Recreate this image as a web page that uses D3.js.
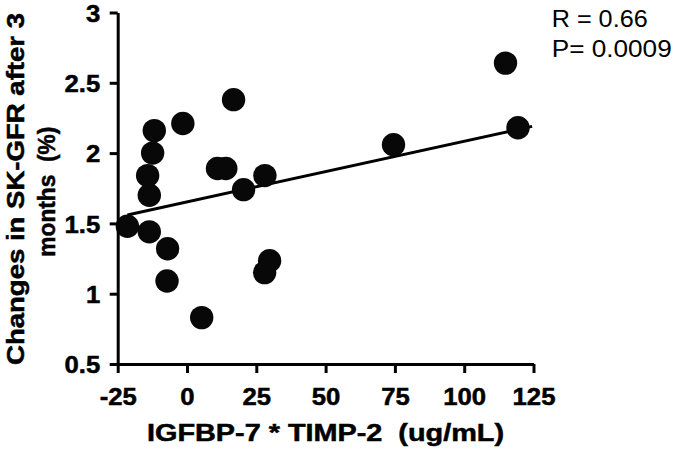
<!DOCTYPE html>
<html>
<head>
<meta charset="utf-8">
<script src="https://cdn.jsdelivr.net/npm/d3@7/dist/d3.min.js"></script>
<style>
  html, body { margin: 0; padding: 0; background: #fff; }
  svg { display: block; }
  text { font-family: "Liberation Sans", Arial, sans-serif; fill: #000; }
</style>
</head>
<body>
<svg id="chart" width="674" height="449"></svg>
<script>
// ---- data ----
const xValues = [-21.5, -11.8, -12.4, -14.2, -13.6, -13.6, -1.5, 16.8, 11.0, 14.0,
                 20.4, 28.1, -7.0, -7.2, 5.3, 29.8, 28.0, 114.9, 119.4, 74.5];
const yValues = [1.48, 2.16, 2.00, 1.84, 1.70, 1.44, 2.21, 2.38, 1.89, 1.89,
                 1.74, 1.84, 1.32, 1.09, 0.83, 1.235, 1.15, 2.64, 2.18, 2.06];
const fitX = [-21.5, 124.5];
const fitY = [1.56, 2.19];
const xTicks = [-25, 0, 25, 50, 75, 100, 125];
const yTicks = [0.5, 1, 1.5, 2, 2.5, 3];
const xTitle = "IGFBP-7 * TIMP-2  (ug/mL)";
const yTitleLines = ["Changes in SK-GFR after 3", "months  (%)"];
const statLines = ["R = 0.66", "P= 0.0009"];

// ---- layout ----
const svg = d3.select("#chart");
const x = d3.scaleLinear().domain([-25, 125]).range([117.7, 533.5]);
const y = d3.scaleLinear().domain([0.5, 3]).range([364, 12.5]);
const sx = 1.07;

// regression line
svg.append("path")
  .datum(fitX.map((v, i) => [v, fitY[i]]))
  .attr("d", d3.line().x(d => x(d[0])).y(d => y(d[1])))
  .attr("fill", "none").attr("stroke", "#000").attr("stroke-width", 3);

// points
svg.append("g").selectAll("circle")
  .data(xValues.map((v, i) => [v, yValues[i]]))
  .join("circle")
  .attr("cx", d => x(d[0])).attr("cy", d => y(d[1]))
  .attr("r", 11.7).attr("fill", "#080808");

// axes
const xAxis = svg.append("g").attr("transform", `translate(0,${y(0.5)})`)
  .call(d3.axisBottom(x).tickValues(xTicks).tickFormat(d => String(d)).tickSize(9).tickSizeOuter(0));
const yAxis = svg.append("g").attr("transform", `translate(${x(-25)},0)`)
  .call(d3.axisLeft(y).tickValues(yTicks).tickFormat(d => String(d)).tickSize(8).tickSizeOuter(0));

[xAxis, yAxis].forEach(g => {
  g.select(".domain").attr("stroke", "#000").attr("stroke-width", 3);
  g.selectAll(".tick line").attr("stroke", "#000").attr("stroke-width", 3);
  g.selectAll(".tick text")
    .attr("font-family", "Liberation Sans, Arial, sans-serif")
    .attr("font-size", 24).attr("font-weight", "bold").attr("fill", "#000")
    .attr("stroke", "#000").attr("stroke-width", 0.5);
});
xAxis.selectAll(".tick text").attr("y", 0).attr("dy", 0)
  .attr("transform", `translate(0,41) scale(${sx},1)`);
yAxis.selectAll(".tick text").attr("x", 0).attr("dy", 0)
  .attr("transform", `translate(-17.5,8.6) scale(${sx},1)`);

// x title
svg.append("text")
  .attr("x", 325.5).attr("y", 441)
  .attr("text-anchor", "middle")
  .attr("font-size", 24).attr("font-weight", "bold")
  .attr("stroke", "#000").attr("stroke-width", 0.5)
  .attr("textLength", 357).attr("lengthAdjust", "spacingAndGlyphs")
  .style("white-space", "pre")
  .text(xTitle);

// y title
const yBase = [24, 54.5];
const yLen = [352, 130];
yTitleLines.forEach((t, i) => {
  svg.append("text")
    .attr("transform", `translate(${yBase[i]},${i === 0 ? 189 : 191.7}) rotate(-90)`)
    .attr("text-anchor", "middle")
    .attr("font-size", 24).attr("font-weight", "bold")
    .attr("stroke", "#000").attr("stroke-width", 0.5)
    .attr("textLength", yLen[i]).attr("lengthAdjust", "spacingAndGlyphs")
    .style("white-space", "pre")
    .text(t);
});

// stats
const statBase = [26.7, 56.7];
const statLen = [96, 120];
statLines.forEach((t, i) => {
  svg.append("text")
    .attr("x", 551.7).attr("y", statBase[i])
    .attr("font-size", 23.5)
    .attr("textLength", statLen[i]).attr("lengthAdjust", "spacingAndGlyphs")
    .style("white-space", "pre")
    .text(t);
});
</script>
</body>
</html>
